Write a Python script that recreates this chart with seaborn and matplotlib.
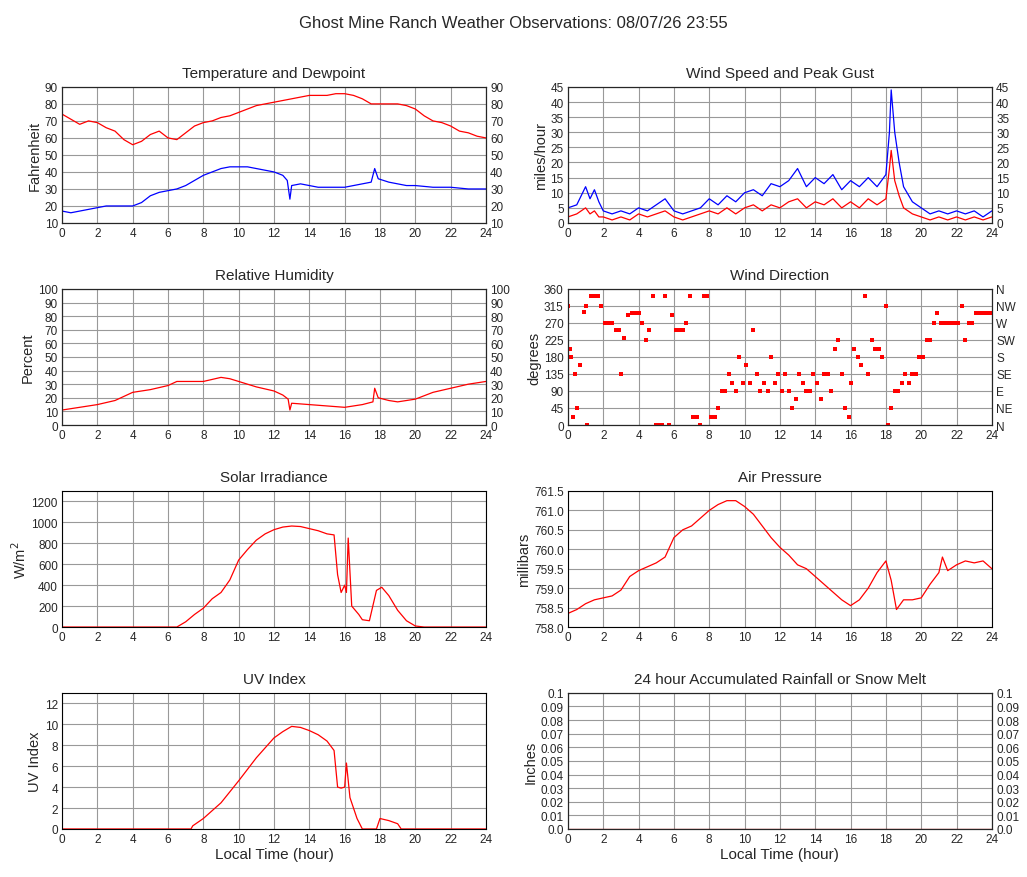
import matplotlib
matplotlib.use("Agg")
import matplotlib.pyplot as plt
import seaborn as sns
import pandas as pd

# ---- data ----
temp_h = [0,0.5,1,1.5,2,2.5,3,3.5,4,4.5,5,5.5,6,6.5,7,7.5,8,8.5,9,9.5,10,10.5,11,11.5,12,12.5,13,13.5,14,14.5,15,15.5,16,16.5,17,17.5,18,18.5,19,19.5,20,20.5,21,21.5,22,22.5,23,23.5,24]
temp_f = [74,71,68,70,69,66,64,59,56,58,62,64,60,59,63,67,69,70,72,73,75,77,79,80,81,82,83,84,85,85,85,86,86,85,83,80,80,80,80,79,77,73,70,69,67,64,63,61,60]
dew_h = [0,0.5,1,1.5,2,2.5,3,3.5,4,4.5,5,5.5,6,6.5,7,7.5,8,8.5,9,9.5,10,10.5,11,11.5,12,12.5,12.75,12.9,13,13.5,14,14.5,15,15.5,16,16.5,17,17.5,17.7,17.9,18.5,19,19.5,20,21,22,23,24]
dew_f = [17,16,17,18,19,20,20,20,20,22,26,28,29,30,32,35,38,40,42,43,43,43,42,41,40,38,35,24,32,33,32,31,31,31,31,32,33,34,42,36,34,33,32,32,31,31,30,30]

rh_h = [0,1,2,3,4,5,6,6.5,7,8,9,9.5,10,11,12,12.5,12.8,12.9,13,14,15,16,16.5,17,17.6,17.7,17.9,18.5,19,20,21,22,23,24]
rh_pct = [11,13,15,18,24,26,29,32,32,32,35,34,32,28,25,22,19,11,16,15,14,13,14,15,17,27,20,18,17,19,24,27,30,32]

wind_h = [0,0.5,1,1.25,1.5,1.75,2,2.5,3,3.5,4,4.5,5,5.5,6,6.5,7,7.5,8,8.5,9,9.5,10,10.5,11,11.5,12,12.5,13,13.5,14,14.5,15,15.5,16,16.5,17,17.5,18,18.2,18.3,18.5,18.75,19,19.5,20,20.5,21,21.5,22,22.5,23,23.5,24]
gust_mph = [5,6,12,8,11,7,4,3,4,3,5,4,6,8,4,3,4,5,8,6,9,7,10,11,9,13,12,14,18,12,15,13,16,11,14,12,15,12,16,30,44,30,20,12,7,5,3,4,3,4,3,4,2,4]
speed_mph = [2,3,5,3,4,2,2,1,2,1,3,2,3,4,2,1,2,3,4,3,5,3,5,6,4,6,5,7,8,5,7,6,8,5,7,5,8,6,8,18,24,14,9,5,3,2,1,2,1,2,1,2,1,2]

dir_h = [0,0.1,0.2,0.3,0.4,0.5,0.7,0.9,1.0,1.1,1.3,1.5,1.7,1.9,2.1,2.3,2.5,2.7,2.9,3.0,3.2,3.4,3.6,3.8,4.0,4.2,4.4,4.6,4.8,5.0,5.1,5.3,5.5,5.7,5.9,6.1,6.3,6.5,6.7,6.9,7.1,7.3,7.5,7.7,7.9,8.1,8.3,8.5,8.7,8.9,9.1,9.3,9.5,9.7,9.9,10.1,10.3,10.5,10.7,10.9,11.1,11.3,11.5,11.7,11.9,12.1,12.3,12.5,12.7,12.9,13.1,13.3,13.5,13.7,13.9,14.1,14.3,14.5,14.7,14.9,15.1,15.3,15.5,15.7,15.9,16.0,16.2,16.4,16.6,16.8,17.0,17.2,17.4,17.6,17.8,18.0,18.1,18.3,18.5,18.7,18.9,19.1,19.3,19.5,19.7,19.9,20.1,20.3,20.5,20.7,20.9,21.1,21.3,21.5,21.7,21.9,22.1,22.3,22.5,22.7,22.9,23.1,23.3,23.5,23.7,23.9]
dir_deg = [315,200,180,20,135,45,160,300,315,0,340,340,340,315,270,270,270,250,250,135,230,290,295,295,295,270,225,250,340,0,0,0,340,0,290,250,250,250,270,340,20,20,0,340,340,20,20,45,90,90,135,110,90,180,110,160,110,250,135,90,110,90,180,110,135,90,135,90,45,70,135,110,90,90,135,110,70,135,135,90,200,225,135,45,20,110,200,180,160,340,135,225,200,200,180,315,0,45,90,90,110,135,110,135,135,180,180,225,225,270,295,270,270,270,270,270,270,315,225,270,270,295,295,295,295,295]

sol_h = [0,6.5,7,7.5,8,8.5,9,9.5,10,10.5,11,11.5,12,12.5,13,13.5,14,14.5,15,15.4,15.6,15.8,16,16.1,16.2,16.4,16.8,17,17.4,17.8,18.1,18.5,19,19.5,20,20.5,24]
sol_wm2 = [0,0,50,120,180,270,330,450,640,740,830,890,930,955,965,960,940,920,890,880,500,330,400,330,850,200,120,70,60,350,380,300,160,60,10,0,0]

pres_h = [0,0.5,1,1.5,2,2.5,3,3.5,4,4.5,5,5.5,6,6.5,7,7.5,8,8.5,9,9.5,10,10.5,11,11.5,12,12.5,13,13.5,14,14.5,15,15.5,16,16.5,17,17.5,18,18.3,18.6,19,19.5,20,20.5,21,21.2,21.5,22,22.5,23,23.5,24]
pres_mb = [758.35,758.45,758.6,758.7,758.75,758.8,758.95,759.3,759.45,759.55,759.65,759.8,760.3,760.5,760.6,760.8,761.0,761.15,761.25,761.25,761.1,760.9,760.6,760.3,760.05,759.85,759.6,759.5,759.3,759.1,758.9,758.7,758.55,758.7,759.0,759.4,759.7,759.2,758.45,758.7,758.7,758.75,759.1,759.4,759.8,759.45,759.6,759.7,759.65,759.7,759.5]

uv_h = [0,7.3,7.4,8,9,10,11,12,12.5,13,13.5,14,14.5,15,15.4,15.6,15.8,16,16.1,16.3,16.7,17,17.8,18,18.5,19,19.2,24]
uv_idx = [0,0,0.3,1,2.5,4.6,6.8,8.7,9.3,9.8,9.7,9.4,9.0,8.4,7.5,4.0,3.9,4.0,6.3,3.0,1.0,0,0,1.0,0.8,0.5,0,0]

rain_h = [0,24]
rain_in = [0,0]

hour_ticks = list(range(0, 25, 2))
dir_labels = ["N", "NE", "E", "SE", "S", "SW", "W", "NW", "N"]

sns.set_style("white")
plt.rcParams['font.family'] = ['Liberation Sans', 'DejaVu Sans']

fig = plt.figure(figsize=(10.27, 8.78), dpi=100)
fig.suptitle("Ghost Mine Ranch Weather Observations: 08/07/26 23:55", y=0.982, fontsize=12)

lefts = [0.0604, 0.553]
bottoms = [0.7449, 0.5148, 0.2847, 0.0547]
W, H = 0.4128, 0.155


def panel(col, row, title, ylabel, ylim, yticks, right=None, xlabel=False):
    ax = fig.add_axes([lefts[col], bottoms[row], W, H])
    ax.set_xlim(0, 24)
    ax.set_ylim(*ylim)
    ax.set_xticks(hour_ticks)
    ax.set_yticks(yticks)
    ax.grid(True, color="#999999", lw=0.8)
    for s in ax.spines.values():
        s.set_color("black")
    ax.tick_params(labelsize=8.5, length=0, pad=3)
    ax.set_title(title, fontsize=11, pad=7)
    ax.set_ylabel(ylabel, fontsize=10.5, labelpad=2)
    if xlabel:
        ax.set_xlabel("Local Time (hour)", fontsize=11, labelpad=1)
    if right is not None:
        ax2 = ax.twinx()
        ax2.set_ylim(*ylim)
        ax2.set_yticks(yticks)
        ax2.set_yticklabels(right)
        ax2.tick_params(labelsize=8.5, length=0, pad=3)
    return ax


def line(ax, x, y, color):
    sns.lineplot(x=x, y=y, ax=ax, color=color, lw=0.9, estimator=None, sort=False)


t = list(range(10, 91, 10))
ax = panel(0, 0, "Temperature and Dewpoint", "Fahrenheit", (10, 90), t, right=[str(v) for v in t])
line(ax, temp_h, temp_f, "red")
line(ax, dew_h, dew_f, "blue")

t = list(range(0, 46, 5))
ax = panel(1, 0, "Wind Speed and Peak Gust", "miles/hour", (0, 45), t, right=[str(v) for v in t])
line(ax, wind_h, gust_mph, "blue")
line(ax, wind_h, speed_mph, "red")

t = list(range(0, 101, 10))
ax = panel(0, 1, "Relative Humidity", "Percent", (0, 100), t, right=[str(v) for v in t])
line(ax, rh_h, rh_pct, "red")

t = list(range(0, 361, 45))
ax = panel(1, 1, "Wind Direction", "degrees", (0, 360), t, right=dir_labels)
sns.scatterplot(x=dir_h, y=dir_deg, ax=ax, color="red", s=9, marker="s", linewidth=0)

ax = panel(0, 2, "Solar Irradiance", "W/m$^2$", (0, 1300), list(range(0, 1201, 200)))
line(ax, sol_h, sol_wm2, "red")

t = [758.0 + 0.5 * i for i in range(8)]
ax = panel(1, 2, "Air Pressure", "millibars", (758.0, 761.5), t)
ax.set_yticklabels([f"{v:.1f}" for v in t])
line(ax, pres_h, pres_mb, "red")

ax = panel(0, 3, "UV Index", "UV Index", (0, 13), list(range(0, 13, 2)), xlabel=True)
line(ax, uv_h, uv_idx, "red")

t = [round(0.01 * i, 2) for i in range(11)]
rl = ["0.0"] + [f"{v:g}" for v in t[1:]]
ax = panel(1, 3, "24 hour Accumulated Rainfall or Snow Melt", "Inches", (0, 0.1), t, right=rl, xlabel=True)
ax.set_yticklabels(rl)
line(ax, rain_h, rain_in, "red")

fig.savefig("out.png", dpi=100)
